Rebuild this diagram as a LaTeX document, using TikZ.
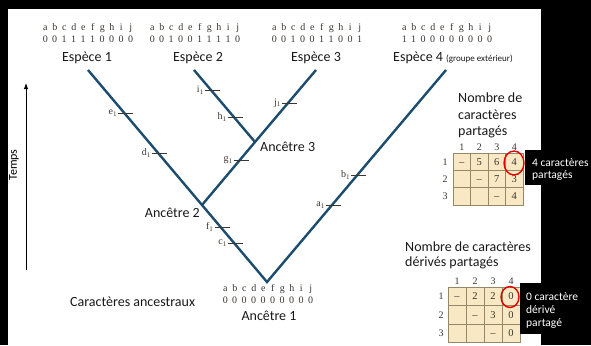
\documentclass[tikz,border=0pt]{standalone}
\usepackage{fontspec}
\setmainfont{Liberation Serif}
\newfontfamily\labelfont{Carlito}
\usetikzlibrary{arrows.meta,calc}

\definecolor{branchblue}{RGB}{28,76,110}
\definecolor{cellfill}{RGB}{248,233,196}
\definecolor{cellline}{RGB}{150,135,105}
\definecolor{chargray}{RGB}{60,54,48}

% a row of characters set on a fixed pitch
\newcommand\cseq[1]{\foreach \sym in {#1}{\makebox[9.5pt]{\sym}}}

\begin{document}
\begin{tikzpicture}[x=1pt,y=-1pt,
  branch/.style={draw=branchblue,line width=2.4pt},
  tickline/.style={draw=chargray,line width=0.8pt},
  ticklbl/.style={font=\rmfamily\fontsize{10}{11}\selectfont,text=chargray,anchor=east,inner sep=1pt},
  chars/.style={font=\rmfamily\fontsize{10}{11}\selectfont,text=chargray,inner sep=0pt},
  title/.style={font=\labelfont\fontsize{14}{16}\selectfont,text=black!90,inner sep=0pt},
  cellbox/.style={draw=cellline,fill=cellfill,line width=1pt},
  cellnum/.style={font=\rmfamily\fontsize{10.5}{11}\selectfont,text=chargray,inner sep=0pt,
    text height=6.8pt,text depth=0pt},
  headnum/.style={font=\rmfamily\fontsize{10}{11}\selectfont,text=chargray,inner sep=0pt},
  redring/.style={draw=red!90!black,line width=1.4pt},
  boxtext/.style={font=\labelfont\fontsize{11.5}{13}\selectfont,text=white,anchor=west,inner sep=0pt}]

% frame
\fill[black] (0,0) rectangle (591,345);
\fill[white] (8,9) rectangle (541,345);
\useasboundingbox (0,0) rectangle (591,345);

% time axis
\coordinate (tbot) at (26,270);
\coordinate (ttop) at (26,83);
\draw[line width=0.9pt,-{Latex[length=6pt,width=4.5pt]}] (tbot) -- (ttop);
\node[font=\labelfont\fontsize{12}{14}\selectfont,rotate=90] (temps) at (14,165) {Temps};

% tree
\coordinate (root) at (267,282);
\coordinate (anc2) at (202,205);
\coordinate (anc3) at (255,142);
\coordinate (sp1) at (88,70);
\coordinate (sp2) at (194,70);
\coordinate (sp3) at (316,70);
\coordinate (sp4) at (446,70);
\draw[branch] (sp1) -- (root) -- (sp4);
\draw[branch] (anc2) -- (anc3) -- (sp3);
\draw[branch] (anc3) -- (sp2);

% character changes along the branches
\foreach \lt/\a/\b/\t in {c/root/sp1/0.184, f/root/sp1/0.259, d/root/sp1/0.608,
    e/root/sp1/0.797, g/anc2/anc3/0.714, h/anc3/sp2/0.347, i/anc3/sp2/0.722,
    j/anc3/sp3/0.542, a/root/sp4/0.363, b/root/sp4/0.505}{
  \coordinate (t\lt) at ($(\a)!\t!(\b)$);
  \draw[tickline] ([xshift=-6pt]t\lt) -- ([xshift=9pt]t\lt);
  \node[ticklbl] (lbl\lt) at ([xshift=-6pt]t\lt) {\lt\textsubscript{1}};
}

% species
\node[chars] (l1) at (88,28) {\cseq{a,b,c,d,e,f,g,h,i,j}};
\node[chars] (d1) at (88,39) {\cseq{0,0,1,1,1,1,0,0,0,0}};
\node[title] (n1) at (87,58) {Espèce 1};

\node[chars] (l2) at (195,28) {\cseq{a,b,c,d,e,f,g,h,i,j}};
\node[chars] (d2) at (195,39) {\cseq{0,0,1,0,0,1,1,1,1,0}};
\node[title] (n2) at (198,58) {Espèce 2};

\node[chars] (l3) at (317,28) {\cseq{a,b,c,d,e,f,g,h,i,j}};
\node[chars] (d3) at (317,39) {\cseq{0,0,1,0,0,1,1,0,0,1}};
\node[title] (n3) at (316,58) {Espèce 3};

\node[chars] (l4) at (447,28) {\cseq{a,b,c,d,e,f,g,h,i,j}};
\node[chars] (d4) at (447,39) {\cseq{1,1,0,0,0,0,0,0,0,0}};
\node[title,anchor=west] (n4) at (393,58) {Espèce 4 {\fontsize{9}{10}\selectfont(groupe extérieur)}};

% ancestors
\node[title,anchor=west] (a3) at (260,147) {Ancêtre 3};
\node[title,anchor=east] (a2) at (200,213) {Ancêtre 2};
\node[chars] (l0) at (268,289) {\cseq{a,b,c,d,e,f,g,h,i,j}};
\node[chars] (d0) at (268,300) {\cseq{0,0,0,0,0,0,0,0,0,0}};
\node[title] (a1) at (269,316) {Ancêtre 1};
\node[title,anchor=west] (anc) at (70,302) {Caractères ancestraux};

% table of shared characters
\node[title,anchor=west] (ta1) at (458,98) {Nombre de};
\node[title,anchor=west] (ta2) at (458,115) {caractères};
\node[title,anchor=west] (ta3) at (458,132) {partagés};
\foreach \r in {0,1,2}
  \foreach \k in {0,...,3}
    \draw[cellbox] (453+\k*17.5,153+\r*17.4) rectangle ++(17.5,17.4);
\foreach \k in {1,...,4}
  \node[headnum] (tah\k) at (453+\k*17.5-8.75,147) {\k};
\foreach \r in {1,2,3}
  \node[headnum] (tar\r) at (445,153+\r*17.4-8.7) {\r};
\foreach \r/\k/\v in {1/1/\textendash, 1/2/5, 1/3/6, 1/4/4, 2/2/\textendash,
    2/3/7, 2/4/3, 3/3/\textendash, 3/4/4}
  \node[cellnum] (ta-\r-\k) at (453+\k*17.5-8.75,153+\r*17.4-8.7) {\v};
\draw[redring] (514,163) ellipse [x radius=10,y radius=12];
\fill[black] (525,150) rectangle (591,185);
\node[boxtext] (na1) at (532,163) {4 caractères};
\node[boxtext] (na2) at (532,176) {partagés};

% table of shared derived characters
\node[title,anchor=west] (tb1) at (405,247) {Nombre de caractères};
\node[title,anchor=west] (tb2) at (405,263) {dérivés partagés};
\foreach \r in {0,1,2}
  \foreach \k in {0,...,3}
    \draw[cellbox] (448+\k*18,287+\r*18.5) rectangle ++(18,18.5);
\foreach \k in {1,...,4}
  \node[headnum] (tbh\k) at (448+\k*18-9,281) {\k};
\foreach \r in {1,2,3}
  \node[headnum] (tbr\r) at (441,287+\r*18.5-9.25) {\r};
\foreach \r/\k/\v in {1/1/\textendash, 1/2/2, 1/3/2, 1/4/0, 2/2/\textendash,
    2/3/3, 2/4/0, 3/3/\textendash, 3/4/0}
  \node[cellnum] (tb-\r-\k) at (448+\k*18-9,287+\r*18.5-9.25) {\v};
\draw[redring] (510,297) ellipse [x radius=9,y radius=10.5];
\fill[black] (520,283) rectangle (591,334);
\node[boxtext] (nb1) at (526,297) {0 caractère};
\node[boxtext] (nb2) at (526,310) {dérivé};
\node[boxtext] (nb3) at (526,324) {partagé};
\end{tikzpicture}
\end{document}
